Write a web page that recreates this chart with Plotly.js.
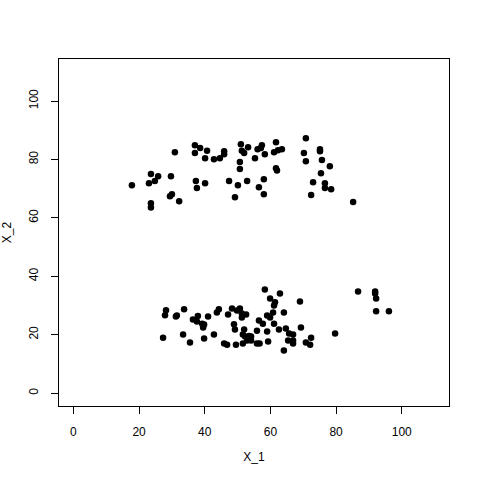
<!DOCTYPE html>
<html>
<head>
<meta charset="utf-8">
<script src="https://cdn.plot.ly/plotly-3.0.1.min.js"></script>
<style>html,body{margin:0;padding:0;background:#fff;}#chart{width:480px;height:480px;}</style>
</head>
<body>
<div id="chart"></div>
<script>
// Upper cluster
const upperX1 = [30.9,37.0,38.6,37.0,40.7,40.1,42.8,44.6,45.9,45.9,51.0,50.7,50.7,23.6,25.8,23.0,24.8,29.7,17.8,37.3,40.1,37.6,47.4,50.1,30.0,29.4,32.2,49.2,23.6,23.6,
  51.3,52.0,53.2,56.1,57.4,57.1,58.3,55.3,61.7,61.1,62.3,63.5,61.7,62.0,58.0,52.9,56.5,58.0,70.8,70.2,75.1,75.1,70.8,75.7,78.1,75.4,73.0,76.6,76.6,78.5,72.4,85.2];
const upperX2 = [82.5,84.9,83.9,82.2,83.0,80.4,80.1,80.4,82.8,81.8,85.2,79.1,76.7,75.0,74.3,71.9,72.6,74.3,71.2,72.6,71.9,70.2,72.6,71.2,68.1,67.4,65.7,67.1,65.0,63.6,
  83.0,82.2,84.2,83.5,84.9,83.9,81.8,80.4,85.9,82.5,83.2,83.5,77.0,76.2,73.2,72.6,70.5,68.1,87.3,82.2,83.5,82.8,79.4,79.8,77.7,75.3,72.2,71.9,70.2,69.8,67.8,65.4];
// Lower cluster
const lowerX1 = [28.2,27.9,31.5,31.2,33.7,27.3,33.4,35.5,36.4,37.6,37.9,39.2,39.8,39.5,41.0,39.8,42.8,43.7,44.3,47.1,48.3,49.8,50.7,51.3,52.6,51.3,48.9,49.2,52.0,51.6,52.3,52.9,51.6,45.9,46.8,49.5,53.5,
  58.3,62.9,59.9,61.4,61.1,69.0,86.7,60.8,59.0,59.9,64.1,56.5,57.7,61.1,55.9,59.0,62.6,64.7,69.3,65.7,66.9,72.4,79.7,54.1,54.1,55.9,56.7,59.3,65.4,66.9,66.9,70.8,72.1,64.1,
  91.9,91.9,92.2,92.2,96.1];
const lowerX2 = [28.4,26.7,26.6,26.2,28.7,19.0,20.1,17.3,25.2,24.5,26.4,23.8,23.5,22.5,26.2,18.7,20.1,27.6,28.7,26.9,29.0,28.3,29.0,27.3,26.9,25.9,23.6,21.8,21.8,20.1,19.4,18.0,17.0,17.0,16.6,16.6,19.6,
  35.5,34.1,32.4,31.1,30.0,31.4,34.8,27.6,26.6,25.9,27.6,24.9,23.8,23.8,21.4,21.1,21.8,22.1,22.5,20.4,20.1,19.0,20.4,19.4,18.0,17.0,17.0,17.7,18.0,18.0,17.0,17.3,16.6,14.6,
  34.8,34.1,32.4,28.0,28.0];

const tickVals = [0,20,40,60,80,100];
const tickText = ["0","20","40","60","80","100"];

const trace = {
  type: 'scatter',
  mode: 'markers',
  x: upperX1.concat(lowerX1),
  y: upperX2.concat(lowerX2),
  marker: {color: '#000000', size: 6.5, line: {width: 0}},
  hoverinfo: 'skip'
};

const axisCommon = {
  showgrid: false,
  zeroline: false,
  showline: true,
  mirror: true,
  linecolor: '#000000',
  linewidth: 1,
  ticks: 'outside',
  ticklen: 7,
  tickwidth: 1,
  tickcolor: '#000000',
  tickmode: 'array',
  tickvals: tickVals,
  ticktext: tickText,
  tickfont: {family: 'Liberation Sans, Arial, sans-serif', size: 12, color: '#000000'},
  ticklabelstandoff: 8
};

const layout = {
  width: 480,
  height: 480,
  margin: {l: 59, r: 31, t: 59, b: 74},
  paper_bgcolor: '#ffffff',
  plot_bgcolor: '#ffffff',
  showlegend: false,
  font: {family: 'Liberation Sans, Arial, sans-serif', size: 12, color: '#000000'},
  xaxis: Object.assign({}, axisCommon, {
    range: [-4.4, 114.4],
    title: {text: 'X_1', standoff: 14, font: {size: 12, color: '#000000'}}
  }),
  yaxis: Object.assign({}, axisCommon, {
    range: [-4.4, 114.4],
    tickangle: -90,
    title: {text: 'X_2', standoff: 14, font: {size: 12, color: '#000000'}}
  })
};

Plotly.newPlot('chart', [trace], layout, {staticPlot: true, displayModeBar: false});
</script>
</body>
</html>
